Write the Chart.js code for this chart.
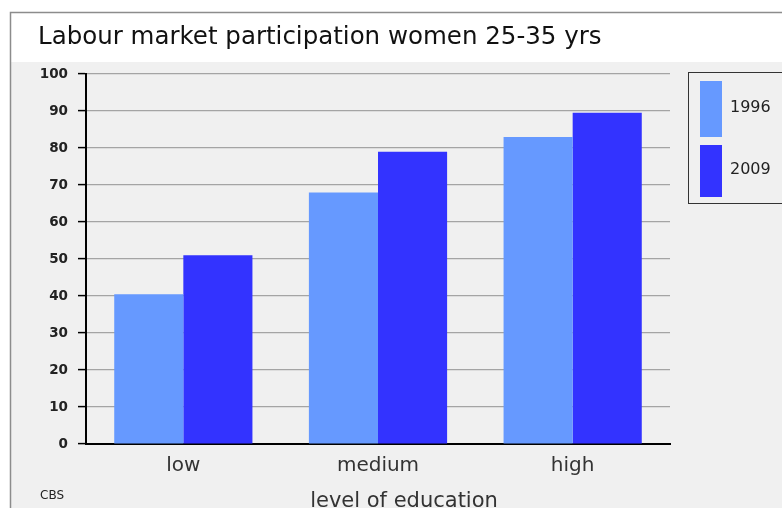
<!DOCTYPE html>
<html>
<head>
<meta charset="utf-8">
<script src="https://cdn.jsdelivr.net/npm/chart.js@4/dist/chart.umd.min.js"></script>
<style>
  html, body { margin:0; padding:0; background:#fff; }
  #wrap { width:782px; height:508px; }
</style>
</head>
<body>
<div id="wrap"><canvas id="grafico" width="782" height="508"></canvas></div>
<script>
// --- datos ---
const categorias = ['low', 'medium', 'high'];
const anios = ['1996', '2009'];
const valores1996 = [40.5, 68, 83];
const valores2009 = [51, 79, 89.5];
const titulo = 'Labour market participation women 25-35 yrs';
const tituloEje = 'level of education';
const fuente = 'CBS';

const FONT = '"DejaVu Sans", Verdana, sans-serif';
const colores = ['#6699ff', '#3333ff'];

// fondo, marco, título y leyenda propia
const decorado = {
  id: 'decorado',
  beforeDraw(chart) {
    const c = chart.ctx;
    c.save();
    c.fillStyle = '#ffffff';
    c.fillRect(0, 0, chart.width, chart.height);
    c.fillStyle = '#f0f0f0';
    c.fillRect(11, 62, chart.width - 11, chart.height - 62);
    c.strokeStyle = '#8c8c8c';
    c.lineWidth = 1.5;
    c.beginPath();
    c.moveTo(10.5, chart.height); c.lineTo(10.5, 12.5); c.lineTo(chart.width, 12.5);
    c.stroke();
    c.fillStyle = '#111';
    c.font = '24.5px ' + FONT;
    c.textBaseline = 'alphabetic';
    c.fillText(titulo, 38, 44);
    c.fillStyle = '#222';
    c.font = '12px ' + FONT;
    c.fillText(fuente, 40, 499);
    // título del eje x (algo desplazado a la derecha como en el original)
    c.fillStyle = '#333';
    c.font = '21px ' + FONT;
    c.textAlign = 'center';
    c.fillText(tituloEje, 404, 507);
    c.restore();
  },
  afterDraw(chart) {
    const c = chart.ctx;
    c.save();
    c.strokeStyle = '#333';
    c.lineWidth = 1;
    c.strokeRect(688.5, 72.5, 110, 131);
    const cajas = [[81, 56], [145, 52]];
    chart.data.datasets.forEach((ds, i) => {
      c.fillStyle = ds.backgroundColor;
      c.fillRect(700, cajas[i][0], 22, cajas[i][1]);
      c.fillStyle = '#222';
      c.font = '16px ' + FONT;
      c.textBaseline = 'middle';
      c.fillText(ds.label, 730, cajas[i][0] + cajas[i][1] / 2 - 1);
    });
    c.restore();
  }
};

new Chart(document.getElementById('grafico'), {
  type: 'bar',
  data: {
    labels: categorias,
    datasets: [
      { label: anios[0], data: valores1996, backgroundColor: colores[0] },
      { label: anios[1], data: valores2009, backgroundColor: colores[1] }
    ]
  },
  options: {
    responsive: false,
    animation: false,
    layout: { padding: { left: 10, top: 74, right: 112, bottom: 0 } },
    datasets: { bar: { categoryPercentage: 0.71, barPercentage: 1.0, borderWidth: 0 } },
    plugins: { legend: { display: false }, title: { display: false }, tooltip: { enabled: false } },
    scales: {
      y: {
        min: 0, max: 100,
        afterFit: s => { s.width = 76; },
        ticks: { stepSize: 10, color: '#222', padding: 10, font: { family: FONT, size: 13.5, weight: 'bold' } },
        grid: { color: '#a4a4a4', lineWidth: 1.2, tickColor: '#000', tickLength: 8, tickWidth: 1.5 },
        border: { color: '#000', width: 2 }
      },
      x: {
        afterFit: s => { s.height = 64; },
        grid: { display: false },
        border: { color: '#000', width: 2 },
        ticks: { color: '#333', padding: 2, font: { family: FONT, size: 20 } },
        title: { display: false }
      }
    }
  },
  plugins: [decorado]
});
</script>
</body>
</html>
